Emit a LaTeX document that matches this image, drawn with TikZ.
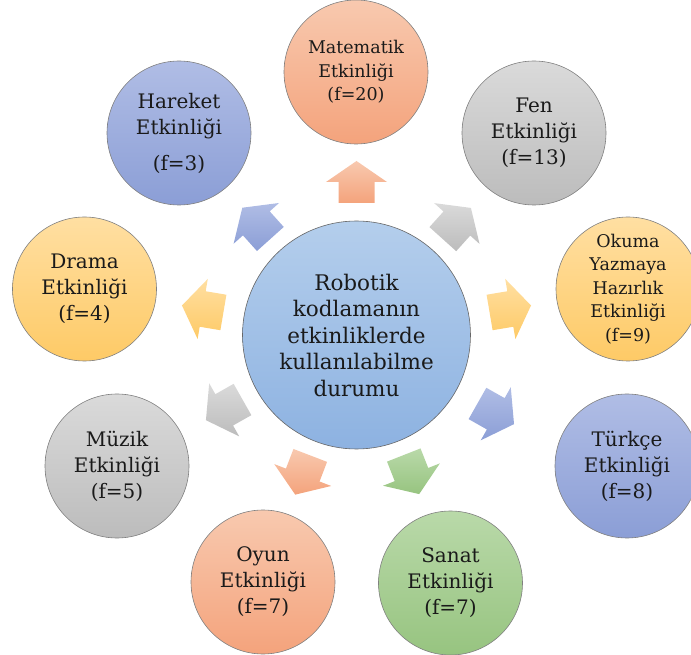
\documentclass[tikz,border=0pt]{standalone}
\usepackage{fontspec}
\setmainfont{DejaVu Serif}
\usetikzlibrary{positioning,calc}
\definecolor{bluetop}{HTML}{B0BDE5}
\definecolor{bluebot}{HTML}{8B9ED6}
\definecolor{orgtop}{HTML}{F8C9AF}
\definecolor{orgbot}{HTML}{F4A37C}
\definecolor{graytop}{HTML}{DADADA}
\definecolor{graybot}{HTML}{BCBCBC}
\definecolor{yeltop}{HTML}{FFDFA2}
\definecolor{yelbot}{HTML}{FECA66}
\definecolor{grntop}{HTML}{B9D9A9}
\definecolor{grnbot}{HTML}{97C480}
\definecolor{midtop}{HTML}{B4CEEC}
\definecolor{midbot}{HTML}{8DB2E1}
\definecolor{rim}{HTML}{808080}
\definecolor{ink}{HTML}{1A1A1A}

\begin{document}
\begin{tikzpicture}[x=1pt,y=1pt,
  act/.style={circle,draw=rim,line width=0.6pt,minimum size=144pt,inner sep=0pt,
              align=center,text=ink,font=\fontsize{20}{26}\selectfont},
  small/.style={font=\fontsize{17.5}{23.6}\selectfont},
  tone/.style={top color=#1top,bottom color=#1bot}]
\useasboundingbox (0,0) rectangle (691,654);
% centre
\node[act,tone=mid,minimum size=228pt,draw=rim!80!black,
      font=\fontsize{21.5}{26.5}\selectfont] (c) at (356.5,319)
  {Robotik\\kodlamanın\\etkinliklerde\\kullanılabilme\\durumu};
% activities
\node[act,tone=org,small] (mat) at (356,582) {Matematik\\Etkinliği\\(f=20)};
\node[act,tone=gray] (fen) at (534,521) {Fen\\Etkinliği\\(f=13)};
\node[act,tone=yel,small] (oku) at (628,365) {Okuma\\Yazmaya\\Hazırlık\\Etkinliği\\(f=9)};
\node[act,tone=blue] (tur) at (627,188) {Türkçe\\Etkinliği\\(f=8)};
\node[act,tone=grn] (san) at (450.5,71) {Sanat\\Etkinliği\\(f=7)};
\node[act,tone=org] (oyu) at (263,72) {Oyun\\Etkinliği\\(f=7)};
\node[act,tone=gray] (muz) at (117,188) {Müzik\\Etkinliği\\(f=5)};
\node[act,tone=yel] (dra) at (84.5,365) {Drama\\Etkinliği\\(f=4)};
\node[act,tone=blue] (har) at (179,521) {Hareket\\Etkinliği\\[10pt](f=3)};
% block arrows
\foreach \a/\d/\t in {90/153/org,48/150/gray,9.6/156/yel,-29.5/160/blue,
    -68.5/150/grn,-111/150/org,-150.5/152/gray,170.4/156/yel,131.9/150/blue}
  \path[tone=\t,shift={($(c)+(\a:\d)$)},rotate=\a]
    (-21,-18) -- (0,-18) -- (0,-30.5) -- (21,0) -- (0,30.5) -- (0,18) -- (-21,18) -- cycle;
\end{tikzpicture}
\end{document}
